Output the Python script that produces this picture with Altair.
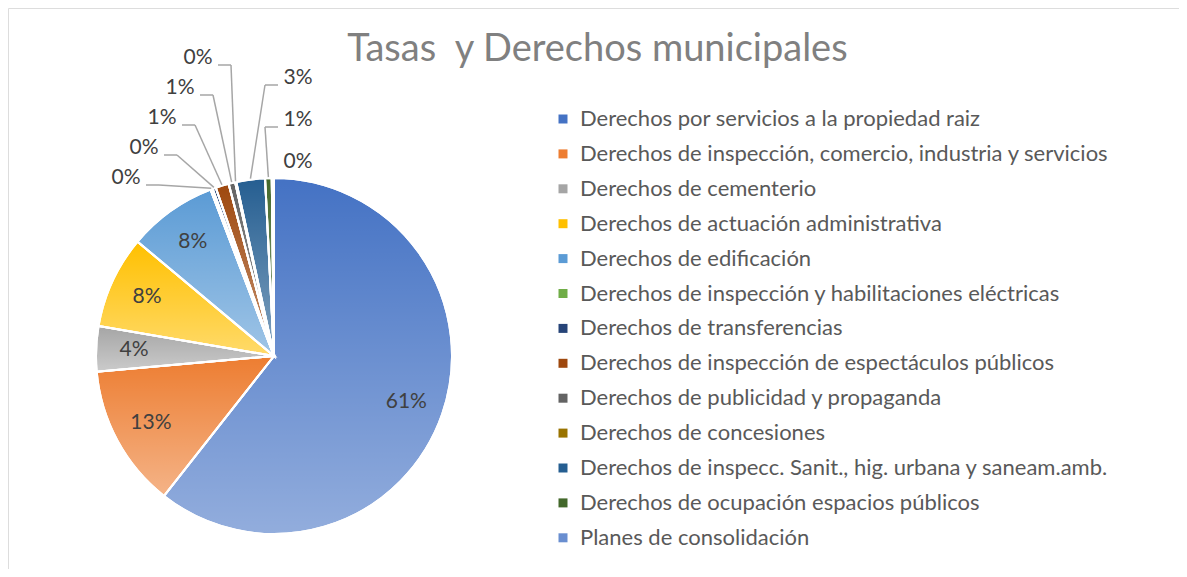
import altair as alt
import pandas as pd

names = [
    "Derechos por servicios a la propiedad raiz",
    "Derechos de inspección, comercio, industria y servicios",
    "Derechos de cementerio",
    "Derechos de actuación administrativa",
    "Derechos de edificación",
    "Derechos de inspección y habilitaciones eléctricas",
    "Derechos de transferencias",
    "Derechos de inspección de espectáculos públicos",
    "Derechos de publicidad y propaganda",
    "Derechos de concesiones",
    "Derechos de inspecc. Sanit., hig. urbana y saneam.amb.",
    "Derechos de ocupación espacios públicos",
    "Planes de consolidación",
]
values = [60.6, 13.0, 4.1, 8.4, 8.1, 0.2, 0.3, 1.2, 0.6, 0.1, 2.6, 0.6, 0.2]
colors = ["#4472C4", "#ED7D31", "#A5A5A5", "#FFC000", "#5B9BD5", "#70AD47",
          "#264478", "#9E480E", "#636363", "#997300", "#255E91", "#43682B", "#698ED0"]
title_text = "Tasas\u00a0 y Derechos municipales"

df = pd.DataFrame({"name": names, "value": values, "order": list(range(len(names)))})

CX, CY, R = 266, 348, 178
FONT = "Lato"

base = alt.Chart(df).transform_window(
    cum="sum(value)", sort=[alt.SortField("order")], frame=[None, 0]
).transform_joinaggregate(
    total="sum(value)"
).transform_calculate(
    f1="datum.cum / datum.total",
    f0="(datum.cum - datum.value) / datum.total",
    pct="datum.value / datum.total",
).transform_calculate(
    ang="(datum.f0 + datum.f1) / 2 * 2 * PI",
    out="datum.pct < 0.035",
    side="(datum.f0 + datum.f1) / 2 < 0.97 ? 'L' : 'R'",
).transform_calculate(
    sk="datum.side == 'L' ? datum.order : -datum.order"
).transform_window(
    rn="row_number()", groupby=["out", "side"], sort=[alt.SortField("sk")]
).transform_calculate(
    k="datum.rn - 1"
).transform_calculate(
    lx=f"datum.out ? (datum.side == 'L' ? 118 + 18 * datum.k : 290) : {CX} + 140 * sin(datum.ang)",
    ly=f"datum.out ? (datum.side == 'L' ? 170 - 30 * datum.k : 154 - 42 * datum.k) : {CY} - 140 * cos(datum.ang)",
    ex=f"{CX} + {R + 1} * sin(datum.ang)",
    ey=f"{CY} - {R + 1} * cos(datum.ang)",
).transform_calculate(
    hx1="datum.side == 'L' ? datum.lx + 20 : datum.lx - 20",
    hx2="datum.side == 'L' ? datum.lx + 33 : datum.lx - 33",
    hy="datum.ly + 7",
).transform_calculate(
    llen="sqrt(pow(datum.hx2 - datum.ex, 2) + pow(datum.hy - datum.ey, 2))"
)

theta = alt.Theta("f0:Q", scale=alt.Scale(domain=[0, 1]))
theta2 = alt.Theta2("f1:Q")

arcs = base.mark_arc(outerRadius=R, stroke="white", strokeWidth=2).encode(
    theta=theta, theta2=theta2,
    x=alt.value(CX), y=alt.value(CY),
    color=alt.Color(
        "name:N",
        scale=alt.Scale(domain=names, range=colors),
        sort=names,
        legend=alt.Legend(
            orient="none", legendX=530, legendY=86, title=None,
            symbolType="square", symbolSize=81, symbolStrokeWidth=0,
            labelFont=FONT, labelFontSize=22, labelColor="#595959",
            rowPadding=12.9, labelOffset=6, labelLimit=800,
            fillColor="rgba(255,255,255,0.6)", padding=14,
        ),
    ),
)

shade = base.mark_arc(
    outerRadius=R, stroke="white", strokeWidth=2,
    fill=alt.LinearGradient(
        gradient="linear", x1=0, y1=0, x2=0, y2=1,
        stops=[alt.GradientStop(color="rgba(255,255,255,0)", offset=0),
               alt.GradientStop(color="rgba(255,255,255,0.42)", offset=1)],
    ),
).encode(theta=theta, theta2=theta2, x=alt.value(CX), y=alt.value(CY))

leaders = base.transform_filter("datum.out && datum.llen > 20")
seg1 = leaders.mark_rule(color="#A6A6A6", strokeWidth=1.5).encode(
    x=alt.X("hx1:Q", scale=None), x2="hx2:Q",
    y=alt.Y("hy:Q", scale=None), y2="hy:Q",
)
seg2 = leaders.mark_rule(color="#A6A6A6", strokeWidth=1.5).encode(
    x=alt.X("hx2:Q", scale=None), x2="ex:Q",
    y=alt.Y("hy:Q", scale=None), y2="ey:Q",
)

labels = base.mark_text(font=FONT, fontSize=21, color="#404040",
                        align="center", baseline="middle").encode(
    x=alt.X("lx:Q", scale=None), y=alt.Y("ly:Q", scale=None),
    text=alt.Text("pct:Q", format=".0%"),
)

chart = alt.layer(arcs, shade, seg1, seg2, labels).properties(
    width=1171, height=561,
    autosize=alt.AutoSizeParams(type="none"),
    padding=0,
    title=alt.TitleParams(
        text=title_text, font=FONT, fontSize=38, fontWeight="normal",
        color="#808080", anchor="middle", frame="group", offset=0,
        baseline="alphabetic", dy=91, dx=4,
    ),
).configure_view(
    fill="#F2F2F2", stroke="#D9D9D9", strokeWidth=1.5
).configure(background="white")

chart.save("out.html", embed_options={"renderer": "svg", "actions": False})
